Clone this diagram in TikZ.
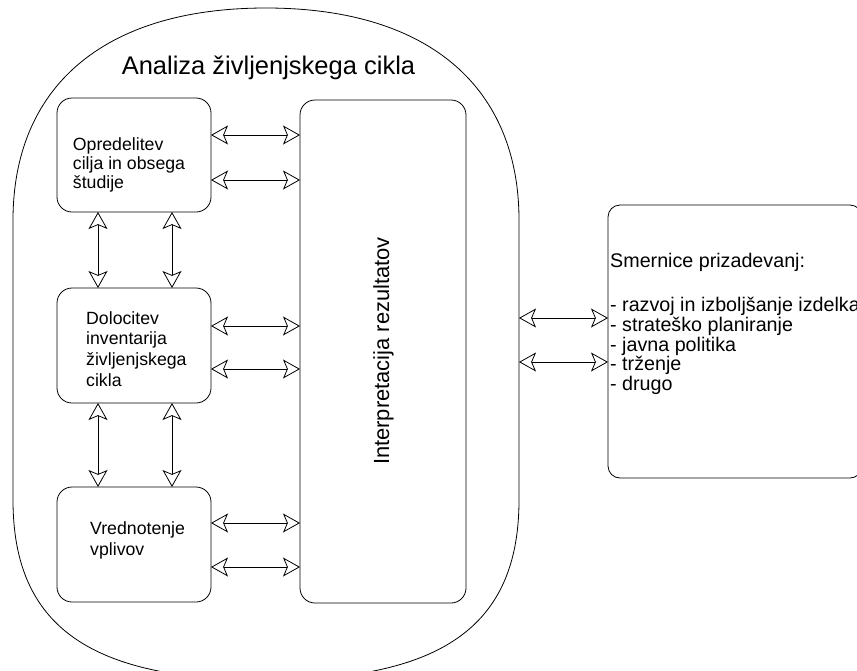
\documentclass[tikz,border=0pt]{standalone}
\usepackage{fontspec}
\setmainfont{Liberation Sans}
\usetikzlibrary{arrows.meta}
\tikzset{
  box/.style={draw, rounded corners=15pt, inner sep=0pt, outer sep=0pt, line width=0.8pt},
  biarrow/.style={line width=0.8pt,
    {Stealth[open,length=17pt,width=19pt,inset=4pt]}-{Stealth[open,length=17pt,width=19pt,inset=4pt]}},
  lbl/.style={inner sep=0pt, anchor=base west},
}
\begin{document}
\begin{tikzpicture}[x=1pt,y=-1pt]
\useasboundingbox (0,0) rectangle (857,670);
\clip (0,0) rectangle (857,670);
% outer life-cycle shape
\draw[line width=0.8pt] (13,220) -- (13,500)
  .. controls (13,630) and (95,680) .. (266,680)
  .. controls (437,680) and (519,630) .. (519,500)
  -- (519,220)
  .. controls (519,90) and (432,8) .. (266,8)
  .. controls (100,8) and (13,90) .. (13,220) -- cycle;
\coordinate (outerE) at (519,341);
\node[inner sep=0pt, anchor=base, font=\fontsize{25.5}{30}\selectfont] (title) at (268.5,74) {Analiza življenjskega cikla};
% boxes
\node[box, minimum width=154pt, minimum height=114pt] (b1) at (134,155) {};
\node[box, minimum width=154pt, minimum height=115pt] (b2) at (134,345.5) {};
\node[box, minimum width=154pt, minimum height=115pt] (b3) at (134,544.5) {};
\node[box, minimum width=166pt, minimum height=503pt] (ir) at (383,351.5) {};
\node[box, rounded corners=12pt, minimum width=254pt, minimum height=273pt] (sm) at (735,341.5) {};
% texts
\node[lbl, font=\fontsize{17.7}{19}\selectfont] (t1) at (72.7,150) {\begin{tabular}[t]{@{}l@{}}Opredelitev\\cilja in obsega\\študije\end{tabular}};
\node[lbl, font=\fontsize{17.7}{20.8}\selectfont] (t2) at (86,324) {\begin{tabular}[t]{@{}l@{}}Dolocitev\\inventarija\\življenjskega\\cikla\end{tabular}};
\node[lbl, font=\fontsize{17.7}{21}\selectfont] (t3) at (90,534) {\begin{tabular}[t]{@{}l@{}}Vrednotenje\\vplivov\end{tabular}};
\node[rotate=90, inner sep=0pt, font=\fontsize{21.9}{26}\selectfont] (t4) at (383.5,351) {Interpretacija rezultatov};
\node[lbl, font=\fontsize{19.7}{18.3}\selectfont] (t5) at (610,267) {\begin{tabular}[t]{@{}l@{}}Smernice prizadevanj:\\ \\[6.4pt]- razvoj in izboljšanje izdelka\\- strateško planiranje\\- javna politika\\- trženje\\- drugo\end{tabular}};
% levels
\coordinate (y1) at (0,135);
\coordinate (y2) at (0,180);
\coordinate (y3) at (0,326);
\coordinate (y4) at (0,369);
\coordinate (y5) at (0,523);
\coordinate (y6) at (0,567);
\coordinate (y7) at (0,318);
\coordinate (y8) at (0,362);
\coordinate (xl) at (98,0);
\coordinate (xr) at (172,0);
% horizontal arrows
\draw[biarrow] (b1.east |- y1) -- (ir.west |- y1);
\draw[biarrow] (b1.east |- y2) -- (ir.west |- y2);
\draw[biarrow] (b2.east |- y3) -- (ir.west |- y3);
\draw[biarrow] (b2.east |- y4) -- (ir.west |- y4);
\draw[biarrow] (b3.east |- y5) -- (ir.west |- y5);
\draw[biarrow] (b3.east |- y6) -- (ir.west |- y6);
\draw[biarrow] (outerE |- y7) -- (sm.west |- y7);
\draw[biarrow] (outerE |- y8) -- (sm.west |- y8);
% vertical arrows
\draw[biarrow] (b1.south -| xl) -- (b2.north -| xl);
\draw[biarrow] (b1.south -| xr) -- (b2.north -| xr);
\draw[biarrow] (b2.south -| xl) -- (b3.north -| xl);
\draw[biarrow] (b2.south -| xr) -- (b3.north -| xr);
\end{tikzpicture}
\end{document}
